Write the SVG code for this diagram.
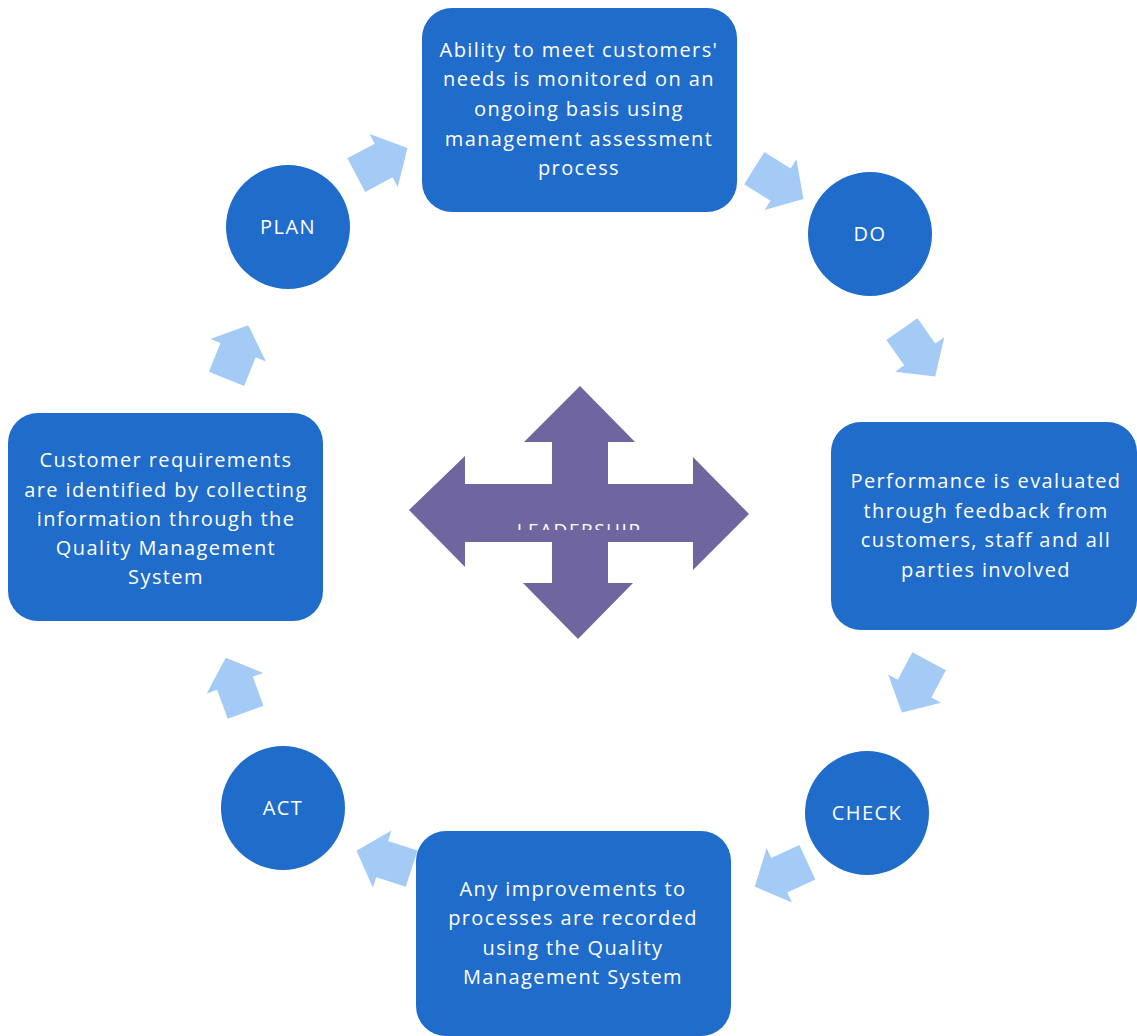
<svg xmlns="http://www.w3.org/2000/svg" width="1137" height="1036" viewBox="0 0 1137 1036">
<style>
.box{fill:#1f6cca}
.t{fill:#ffffff;font-family:"Open Sans","Liberation Sans",sans-serif;font-size:20px;letter-spacing:1.4px;text-anchor:middle}
.ar{fill:#a3cbf6}
</style>
<defs>
<path id="arr" d="M -28,-19 L 3,-19 L 3,-30 L 30,0 L 3,30 L 3,19 L -28,19 Z"/>
<clipPath id="lc"><rect x="480" y="519" width="200" height="11"/></clipPath>
</defs>
<rect width="1137" height="1036" fill="#ffffff"/>
<g id="connectors">
<use href="#arr" class="ar" transform="translate(381,162) rotate(-28)"/>
<use href="#arr" class="ar" transform="translate(778,183) rotate(32)"/>
<use href="#arr" class="ar" transform="translate(918,352) rotate(55)"/>
<use href="#arr" class="ar" transform="translate(916,686) rotate(118)"/>
<use href="#arr" class="ar" transform="translate(782,874) rotate(155)"/>
<use href="#arr" class="ar" transform="translate(385,860) rotate(198)"/>
<use href="#arr" class="ar" transform="translate(236,686) rotate(-110)"/>
<use href="#arr" class="ar" transform="translate(237,353) rotate(-68)"/>
</g>
<g id="leadership">
<polygon fill="#6f66a0" points="580,386 635,442 608,442 608,484 693,484 693,457 749,514 693,570 693,542 608,542 608,583 633,583 578,639 523,583 552,583 552,542 465,542 465,567 409,510 465,456 465,484 552,484 552,442 524,442"/>
<text x="579" y="537" clip-path="url(#lc)" fill="#ffffff" font-family="'Open Sans','Liberation Sans',sans-serif" font-size="19" letter-spacing="1.5" text-anchor="middle">LEADERSHIP</text>
</g>
<g id="top-box">
<rect class="box" x="422" y="8" width="315" height="204" rx="30"/>
<text class="t" x="579" y="57">Ability to meet customers'</text>
<text class="t" x="579" y="86">needs is monitored on an</text>
<text class="t" x="579" y="116">ongoing basis using</text>
<text class="t" x="579" y="146">management assessment</text>
<text class="t" x="579" y="175">process</text>
</g>
<g id="plan">
<circle class="box" cx="288" cy="227" r="62"/>
<text class="t" x="288" y="234">PLAN</text>
</g>
<g id="do">
<circle class="box" cx="870" cy="234" r="62"/>
<text class="t" x="870" y="241">DO</text>
</g>
<g id="right-box">
<rect class="box" x="831" y="422" width="306" height="208" rx="30"/>
<text class="t" x="986" y="488">Performance is evaluated</text>
<text class="t" x="986" y="518">through feedback from</text>
<text class="t" x="986" y="547">customers, staff and all</text>
<text class="t" x="986" y="577">parties involved</text>
</g>
<g id="check">
<circle class="box" cx="867" cy="813" r="62"/>
<text class="t" x="867" y="820">CHECK</text>
</g>
<g id="bottom-box">
<rect class="box" x="416" y="831" width="315" height="205" rx="30"/>
<text class="t" x="573" y="896">Any improvements to</text>
<text class="t" x="573" y="925">processes are recorded</text>
<text class="t" x="573" y="955">using the Quality</text>
<text class="t" x="573" y="984">Management System</text>
</g>
<g id="act">
<circle class="box" cx="283" cy="808" r="62"/>
<text class="t" x="283" y="815">ACT</text>
</g>
<g id="left-box">
<rect class="box" x="8" y="413" width="315" height="208" rx="30"/>
<text class="t" x="166" y="467">Customer requirements</text>
<text class="t" x="166" y="497">are identified by collecting</text>
<text class="t" x="166" y="526">information through the</text>
<text class="t" x="166" y="555">Quality Management</text>
<text class="t" x="166" y="584">System</text>
</g>
</svg>
